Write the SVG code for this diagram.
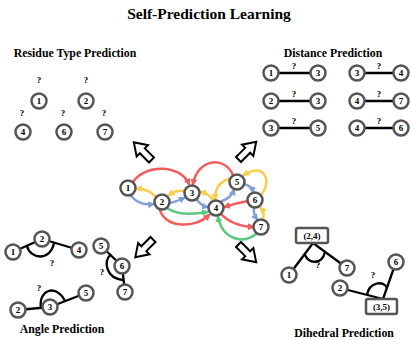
<svg xmlns="http://www.w3.org/2000/svg" xmlns:xlink="http://www.w3.org/1999/xlink" width="411" height="340" viewBox="0 0 411 340">
<style>
text{font-family:"Liberation Serif","Times New Roman",serif;font-weight:bold;fill:#000;}
.title{font-size:15.5px;text-anchor:middle;}
.head{font-size:11.8px;text-anchor:middle;}
.n circle{fill:#fff;stroke:#555;stroke-width:2.5;}
.n text{font-size:9px;text-anchor:middle;dominant-baseline:central;}
.q{font-size:9px;text-anchor:middle;}
.bl{stroke:#000;stroke-width:2.3;fill:none;}
.box rect{fill:#fff;stroke:#555;stroke-width:2.5;}
.box text{font-size:9px;text-anchor:middle;dominant-baseline:central;}
.e{fill:none;stroke-width:2.5;stroke-linecap:round;}
.r{stroke:#f45b5b;marker-end:url(#mr);}
.y{stroke:#fbcd4b;marker-end:url(#my);}
.b{stroke:#7f9fdb;marker-end:url(#mb);}
.g{stroke:#5bc97d;marker-end:url(#mg);}
.ba{fill:#fff;stroke:#000;stroke-width:2;stroke-linejoin:miter;}
</style>
<defs>
<marker id="mr" markerUnits="userSpaceOnUse" markerWidth="8" markerHeight="8" refX="5" refY="4" orient="auto"><path d="M0,0.5 L7,4 L0,7.5 z" fill="#f45b5b"/></marker>
<marker id="my" markerUnits="userSpaceOnUse" markerWidth="8" markerHeight="8" refX="5" refY="4" orient="auto"><path d="M0,0.5 L7,4 L0,7.5 z" fill="#fbcd4b"/></marker>
<marker id="mb" markerUnits="userSpaceOnUse" markerWidth="8" markerHeight="8" refX="5" refY="4" orient="auto"><path d="M0,0.5 L7,4 L0,7.5 z" fill="#7f9fdb"/></marker>
<marker id="mg" markerUnits="userSpaceOnUse" markerWidth="8" markerHeight="8" refX="5" refY="4" orient="auto"><path d="M0,0.5 L7,4 L0,7.5 z" fill="#5bc97d"/></marker>
<path id="blk" d="M0,-3.5 L13,-3.5 L13,-8 L25,0 L13,8 L13,3.5 L0,3.5 Z"/>
</defs>

<text class="title" x="209" y="19">Self-Prediction Learning</text>

<!-- Residue Type Prediction -->
<g id="residue">
<text class="head" x="75" y="57">Residue Type Prediction</text>
<text class="q" x="39" y="83">?</text>
<text class="q" x="86" y="83">?</text>
<text class="q" x="22" y="116">?</text>
<text class="q" x="63" y="116">?</text>
<text class="q" x="104" y="116">?</text>
<g class="n" id="r1"><circle cx="39" cy="101" r="7.5"/><text x="39" y="101">1</text></g>
<g class="n" id="r2"><circle cx="86" cy="101" r="7.5"/><text x="86" y="101">2</text></g>
<g class="n" id="r4"><circle cx="23" cy="132" r="7.5"/><text x="23" y="132">4</text></g>
<g class="n" id="r6"><circle cx="64" cy="132" r="7.5"/><text x="64" y="132">6</text></g>
<g class="n" id="r7"><circle cx="105" cy="132" r="7.5"/><text x="105" y="132">7</text></g>
</g>

<!-- Distance Prediction -->
<g id="distance">
<text class="head" x="333" y="57">Distance Prediction</text>
<line class="bl" x1="271" y1="73" x2="318" y2="73"/>
<line class="bl" x1="271" y1="101" x2="318" y2="101"/>
<line class="bl" x1="271" y1="128" x2="318" y2="128"/>
<line class="bl" x1="357" y1="73" x2="401" y2="73"/>
<line class="bl" x1="357" y1="101" x2="401" y2="101"/>
<line class="bl" x1="357" y1="128" x2="401" y2="128"/>
<text class="q" x="294" y="69">?</text>
<text class="q" x="294" y="97">?</text>
<text class="q" x="294" y="124">?</text>
<text class="q" x="379" y="69">?</text>
<text class="q" x="379" y="97">?</text>
<text class="q" x="379" y="124">?</text>
<g class="n" id="d1"><circle cx="271" cy="73" r="7.5"/><text x="271" y="73">1</text></g>
<g class="n" id="d3a"><circle cx="318" cy="73" r="7.5"/><text x="318" y="73">3</text></g>
<g class="n" id="d2"><circle cx="271" cy="101" r="7.5"/><text x="271" y="101">2</text></g>
<g class="n" id="d3b"><circle cx="318" cy="101" r="7.5"/><text x="318" y="101">3</text></g>
<g class="n" id="d3c"><circle cx="271" cy="128" r="7.5"/><text x="271" y="128">3</text></g>
<g class="n" id="d5"><circle cx="318" cy="128" r="7.5"/><text x="318" y="128">5</text></g>
<g class="n" id="d3d"><circle cx="357" cy="73" r="7.5"/><text x="357" y="73">3</text></g>
<g class="n" id="d4a"><circle cx="401" cy="73" r="7.5"/><text x="401" y="73">4</text></g>
<g class="n" id="d4b"><circle cx="357" cy="101" r="7.5"/><text x="357" y="101">4</text></g>
<g class="n" id="d7"><circle cx="401" cy="101" r="7.5"/><text x="401" y="101">7</text></g>
<g class="n" id="d4c"><circle cx="357" cy="128" r="7.5"/><text x="357" y="128">4</text></g>
<g class="n" id="d6"><circle cx="401" cy="128" r="7.5"/><text x="401" y="128">6</text></g>
</g>

<!-- Block arrows -->
<g id="block-arrows">
<use xlink:href="#blk" class="ba" transform="translate(151.5,160) rotate(-135)"/>
<use xlink:href="#blk" class="ba" transform="translate(238.5,159.5) rotate(-45)"/>
<use xlink:href="#blk" class="ba" transform="translate(153,239.5) rotate(135)"/>
<use xlink:href="#blk" class="ba" transform="translate(238.5,244.5) rotate(45)"/>
</g>

<!-- Central graph connectors -->
<g id="connectors">
<path class="e r" d="M133,182 C145,164 180,164 189,184"/>
<path class="e y" d="M155,196 Q147,188 137,189"/>
<path class="e b" d="M131,196 Q140,206 153,204"/>
<path class="e y" d="M184,191 Q176,190 169,195"/>
<path class="e b" d="M170,203 Q178,201 184,198"/>
<path class="e b" d="M197,200 Q202,206 207,207"/>
<path class="e y" d="M213,200 Q208,193 201,192"/>
<path class="e r" d="M233,175 C225,156 198,158 193,184"/>
<path class="e g" d="M167,208 Q180,217 207,212"/>
<path class="e r" d="M160,210 C165,228 195,229 209,215"/>
<path class="e b" d="M222,201 Q231,198 234,190"/>
<path class="e y" d="M229,179 Q215,183 215,199"/>
<path class="e b" d="M244,184 Q252,186 253,192"/>
<path class="e y" d="M262,194 C272,180 264,162 244,175"/>
<path class="e r" d="M248,201 Q236,203 225,207"/>
<path class="e b" d="M254,208 Q253,214 257,219"/>
<path class="e y" d="M263,219 Q265,213 261,208"/>
<path class="e r" d="M221,214 Q232,226 253,227"/>
<path class="e g" d="M256,234 C245,244 223,241 218,217"/>
</g>

<g id="graph-nodes">
<g class="n" id="g1"><circle cx="128" cy="188" r="7.5"/><text x="128" y="188">1</text></g>
<g class="n" id="g2"><circle cx="162" cy="202" r="7.5"/><text x="162" y="202">2</text></g>
<g class="n" id="g3"><circle cx="192" cy="193" r="7.5"/><text x="192" y="193">3</text></g>
<g class="n" id="g4"><circle cx="216" cy="208" r="7.5"/><text x="216" y="208">4</text></g>
<g class="n" id="g5"><circle cx="237" cy="182" r="7.5"/><text x="237" y="182">5</text></g>
<g class="n" id="g6"><circle cx="255" cy="200" r="7.5"/><text x="255" y="200">6</text></g>
<g class="n" id="g7"><circle cx="261" cy="227" r="7.5"/><text x="261" y="227">7</text></g>
</g>

<!-- Angle Prediction -->
<g id="angle">
<line class="bl" x1="13" y1="252" x2="42" y2="239"/>
<line class="bl" x1="42" y1="239" x2="79" y2="250"/>
<path class="bl" d="M27,246 C30,259 50,262 54,243"/>
<text class="q" x="52" y="266">?</text>
<g class="n" id="a1"><circle cx="13" cy="252" r="7.5"/><text x="13" y="252">1</text></g>
<g class="n" id="a2"><circle cx="42" cy="239" r="7.5"/><text x="42" y="239">2</text></g>
<g class="n" id="a4"><circle cx="79" cy="250" r="7.5"/><text x="79" y="250">4</text></g>

<line class="bl" x1="101" y1="246" x2="122" y2="266"/>
<line class="bl" x1="122" y1="266" x2="125" y2="292"/>
<path class="bl" d="M111,254 C103,262 106,278 123,280"/>
<text class="q" x="102" y="275">?</text>
<g class="n" id="a5"><circle cx="101" cy="246" r="7.5"/><text x="101" y="246">5</text></g>
<g class="n" id="a6"><circle cx="122" cy="266" r="7.5"/><text x="122" y="266">6</text></g>
<g class="n" id="a7"><circle cx="125" cy="292" r="7.5"/><text x="125" y="292">7</text></g>

<line class="bl" x1="18" y1="310" x2="50" y2="307"/>
<line class="bl" x1="50" y1="307" x2="86" y2="293"/>
<path class="bl" d="M41,308 C38,290 56,283 65,301"/>
<text class="q" x="39" y="291">?</text>
<g class="n" id="a2b"><circle cx="18" cy="310" r="7.5"/><text x="18" y="310">2</text></g>
<g class="n" id="a3"><circle cx="50" cy="307" r="7.5"/><text x="50" y="307">3</text></g>
<g class="n" id="a5b"><circle cx="86" cy="293" r="7.5"/><text x="86" y="293">5</text></g>
<text class="head" x="62" y="333">Angle Prediction</text>
</g>

<!-- Dihedral Prediction -->
<g id="dihedral">
<line class="bl" x1="313" y1="243" x2="289" y2="275"/>
<line class="bl" x1="313" y1="243" x2="347" y2="268"/>
<path class="bl" d="M305,255 C309,264 322,265 325,252"/>
<text class="q" x="318" y="268">?</text>
<g class="box" id="b24"><rect x="296" y="228" width="32" height="15" rx="2"/><text x="312" y="235.5">(2,4)</text></g>
<g class="n" id="h1"><circle cx="289" cy="275" r="7.5"/><text x="289" y="275">1</text></g>
<g class="n" id="h7"><circle cx="347" cy="268" r="7.5"/><text x="347" y="268">7</text></g>

<line class="bl" x1="340" y1="288" x2="383" y2="299"/>
<line class="bl" x1="383" y1="299" x2="396" y2="262"/>
<path class="bl" d="M367,295 C369,282 384,280 387,288"/>
<text class="q" x="373" y="278">?</text>
<g class="box" id="b35"><rect x="366" y="299" width="31" height="15" rx="2"/><text x="381.5" y="306.5">(3,5)</text></g>
<g class="n" id="h2"><circle cx="340" cy="288" r="7.5"/><text x="340" y="288">2</text></g>
<g class="n" id="h6"><circle cx="396" cy="262" r="7.5"/><text x="396" y="262">6</text></g>
<text class="head" x="344" y="337">Dihedral Prediction</text>
</g>
</svg>
